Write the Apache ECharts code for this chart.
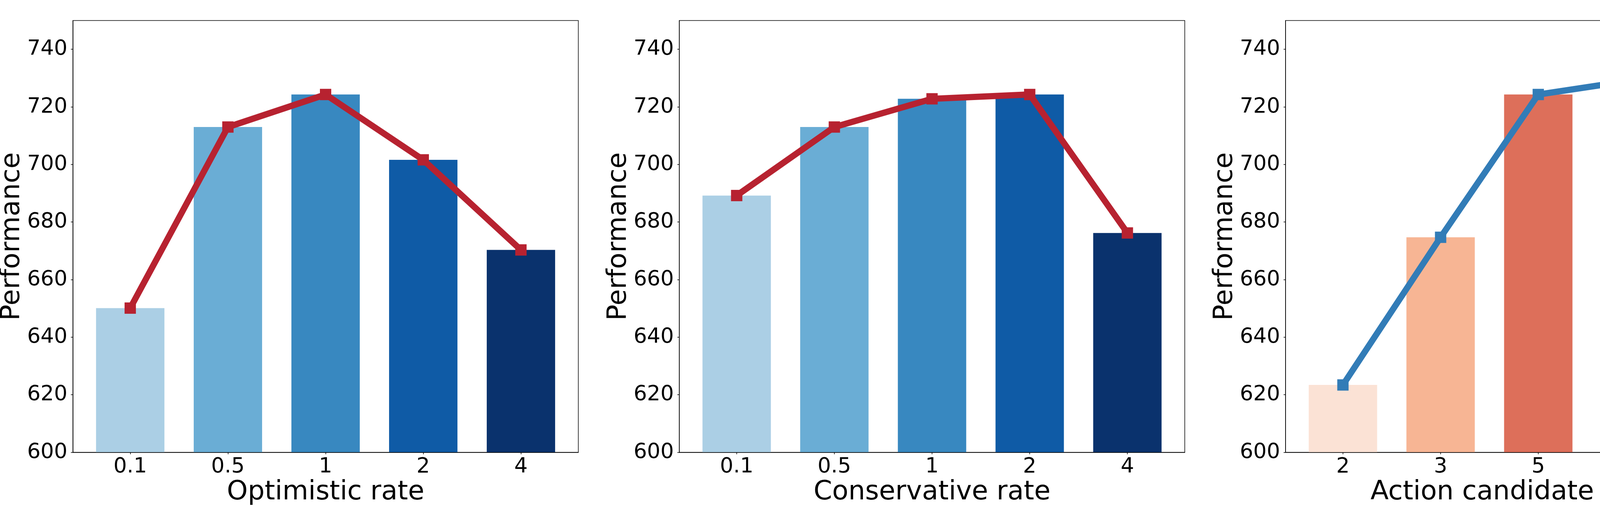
<!DOCTYPE html>
<html>
<head>
<meta charset="utf-8">
<script src="https://cdn.jsdelivr.net/npm/echarts@6/dist/echarts.min.js"></script>
<style>
  html, body { margin: 0; padding: 0; background: #fff; }
  #chart { width: 6200px; height: 1300px; }
</style>
</head>
<body>
<div id="chart"></div>
<script>
// ---- data ----
const yTicks = [600, 620, 640, 660, 680, 700, 720, 740];

const optimisticRates = ['0.1', '0.5', '1', '2', '4'];
const optimisticPerf = [650.1, 713.0, 724.3, 701.6, 670.3];

const conservativeRates = ['0.1', '0.5', '1', '2', '4'];
const conservativePerf = [689.2, 713.0, 722.8, 724.3, 676.2];

const actionCandidates = ['2', '3', '5', '7', '10'];
const actionPerf = [623.4, 674.7, 724.3, 729.4, 735.1];

const planningHorizons = ['1', '3', '5', '7', '9'];
const horizonPerf = [670.2, 694.6, 724.4, 705.5, 641.2];

const xAxisNames = ['Optimistic rate', 'Conservative rate', 'Action candidate number', 'Planning horizon'];

// ---- styles ----
const bluePalette = ['#abcfe5', '#6aadd5', '#3888c0', '#0f5ba6', '#0a326d'];
const redPalette = ['#fbe2d5', '#f7b594', '#dd6f5a', '#b52131', '#6d0021'];
const redLine = '#b72230';
const blueLine = '#327cb7';

const panels = [
  { cats: optimisticRates, vals: optimisticPerf, name: xAxisNames[0], palette: bluePalette, line: redLine },
  { cats: conservativeRates, vals: conservativePerf, name: xAxisNames[1], palette: bluePalette, line: redLine },
  { cats: actionCandidates, vals: actionPerf, name: xAxisNames[2], palette: redPalette, line: blueLine },
  { cats: planningHorizons, vals: horizonPerf, name: xAxisNames[3], palette: redPalette, line: blueLine }
];

const frameLefts = [186.5, 1739, 3291, 4844];
const frameTop = 52.5, frameW = 1294, frameH = 1105;
const FONT = 'DejaVu Sans';

const grids = [], xAxes = [], yAxes = [], series = [];
panels.forEach((p, k) => {
  grids.push({
    left: frameLefts[k], top: frameTop, width: frameW, height: frameH,
    show: true, borderColor: '#000', borderWidth: 1.5, backgroundColor: 'transparent',
    containLabel: false, outerBoundsMode: 'none'
  });
  const idx = p.cats.map((c, i) => i);
  xAxes.push({
    gridIndex: k, type: 'value', min: -0.5875, max: p.cats.length - 1 + 0.5875,
    z: 5,
    axisLine: { show: true, onZero: false, lineStyle: { color: '#000', width: 1.5 } },
    axisTick: { show: true, length: 5, lineStyle: { color: '#000', width: 1.5 }, customValues: idx },
    axisLabel: {
      show: true, customValues: idx, margin: 10,
      fontFamily: FONT, fontSize: 54, color: '#000',
      formatter: v => p.cats[Math.round(v)]
    },
    splitLine: { show: false },
    name: p.name, nameLocation: 'middle', nameGap: 62,
    nameTextStyle: { fontFamily: FONT, fontSize: 68, color: '#000' }
  });
  yAxes.push({
    gridIndex: k, type: 'value', min: 600, max: 750,
    z: 5,
    axisLine: { show: true, onZero: false, lineStyle: { color: '#000', width: 1.5 } },
    axisTick: { show: true, length: 5, lineStyle: { color: '#000', width: 1.5 }, customValues: yTicks },
    axisLabel: {
      show: true, customValues: yTicks, margin: 14,
      fontFamily: FONT, fontSize: 54, color: '#000'
    },
    splitLine: { show: false },
    name: 'Performance', nameLocation: 'middle', nameGap: 110, nameRotate: 90,
    nameTextStyle: { fontFamily: FONT, fontSize: 68, color: '#000' }
  });
  series.push({
    type: 'bar', xAxisIndex: k, yAxisIndex: k, z: 1,
    barWidth: '70%',
    data: p.vals.map((v, i) => ({ value: [i, v], itemStyle: { color: p.palette[i] } }))
  });
  series.push({
    type: 'line', xAxisIndex: k, yAxisIndex: k, z: 3,
    symbol: 'rect', symbolSize: 29, showSymbol: true,
    lineStyle: { color: p.line, width: 16 },
    itemStyle: { color: p.line },
    data: p.vals.map((v, i) => [i, v])
  });
});

const chart = echarts.init(document.getElementById('chart'), null, { renderer: 'canvas' });
chart.setOption({
  animation: false,
  backgroundColor: '#fff',
  grid: grids,
  xAxis: xAxes,
  yAxis: yAxes,
  series: series
});
</script>
</body>
</html>
